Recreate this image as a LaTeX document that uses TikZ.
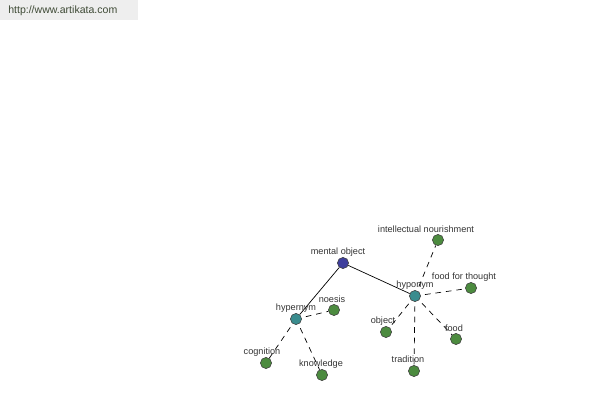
\documentclass[tikz,border=0pt]{standalone}
\usepackage{fontspec}
\setmainfont{Liberation Sans}
\definecolor{rootc}{HTML}{3F3F9C}
\definecolor{relc}{HTML}{3A8C8E}
\definecolor{leafc}{HTML}{4C8B3F}
\definecolor{boxc}{HTML}{EEEEEE}
\definecolor{urlc}{HTML}{3E4A35}
\begin{document}
\begin{tikzpicture}[x=0.025cm,y=-0.025cm,
  dot/.style={circle,draw=black!75,line width=0.4pt,inner sep=0pt,minimum size=0.28cm},
  rootdot/.style={dot,fill=rootc},
  reldot/.style={dot,fill=relc},
  leafdot/.style={dot,fill=leafc},
  lbl/.style={font=\fontsize{6.5}{7.5}\selectfont,text=black!80,inner sep=0pt},
  solidedge/.style={line width=0.5pt,black},
  dashedge/.style={line width=0.5pt,black,dash pattern=on 4pt off 3.5pt,shorten <=3pt}]
\useasboundingbox (0,0) rectangle (600,400);
\fill[boxc] (0,0) rectangle (138,20);
\node[anchor=west,inner sep=0pt,text=urlc,font=\fontsize{7.5}{9}\selectfont] (url) at (8,11) {http://www.artikata.com};
% nodes
\node[rootdot] (mo) at (343,263) {};
\node[reldot] (hyper) at (296,319) {};
\node[reldot] (hypo) at (415,296) {};
\node[leafdot] (noesis) at (334,310) {};
\node[leafdot] (cog) at (266,363) {};
\node[leafdot] (know) at (322,375) {};
\node[leafdot] (intel) at (438,240) {};
\node[leafdot] (fft) at (471,288) {};
\node[leafdot] (obj) at (386,332) {};
\node[leafdot] (food) at (456,339) {};
\node[leafdot] (trad) at (414,371) {};
% edges
\draw[solidedge] (mo) -- (hyper);
\draw[solidedge] (mo) -- (hypo);
\draw[dashedge] (hyper) -- (noesis);
\draw[dashedge] (hyper) -- (cog);
\draw[dashedge] (hyper) -- (know);
\draw[dashedge] (hypo) -- (intel);
\draw[dashedge] (hypo) -- (fft);
\draw[dashedge] (hypo) -- (obj);
\draw[dashedge] (hypo) -- (food);
\draw[dashedge] (hypo) -- (trad);
% labels
\node[lbl] (l-mo) at (338,252) {mental object};
\node[lbl] (l-hyper) at (296,308) {hypernym};
\node[lbl] (l-hypo) at (415,285) {hyponym};
\node[lbl] (l-noesis) at (332,299) {noesis};
\node[lbl] (l-cog) at (262,352) {cognition};
\node[lbl] (l-know) at (321,364) {knowledge};
\node[lbl] (l-intel) at (426,229) {intellectual nourishment};
\node[lbl] (l-fft) at (464,277) {food for thought};
\node[lbl] (l-obj) at (383,321) {object};
\node[lbl] (l-food) at (454,328) {food};
\node[lbl] (l-trad) at (408,359) {tradition};
\end{tikzpicture}
\end{document}
